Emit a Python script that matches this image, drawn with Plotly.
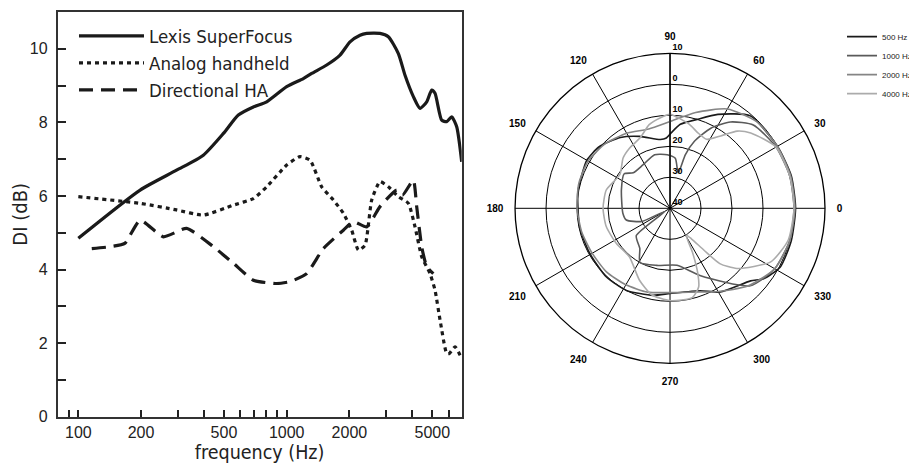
import plotly.graph_objects as go

# ---------------- left chart data ----------------
lexis_f = [100, 198, 296, 398, 497, 586, 692, 802, 1000, 1202, 1318, 1556, 1803, 2014,
           2249, 2421, 2805, 3076, 3436, 3698, 4055, 4365, 4699, 4966, 5152, 5546, 5861,
           6194, 6546, 6918]
lexis_di = [4.85, 6.16, 6.70, 7.11, 7.70, 8.20, 8.42, 8.56, 8.97, 9.19, 9.33, 9.56, 9.83,
            10.19, 10.37, 10.42, 10.42, 10.33, 9.87, 9.28, 8.70, 8.38, 8.56, 8.88, 8.79,
            8.06, 8.02, 8.15, 7.88, 6.93]

analog_f = [100, 198, 296, 398, 555, 692, 802, 1000, 1159, 1297, 1472, 1675, 1871, 2051,
            2208, 2377, 2559, 2805, 3076, 3436, 3837, 4130, 4446, 4875, 5152, 5445, 5861,
            6040, 6427, 6918]
analog_di = [5.98, 5.80, 5.62, 5.48, 5.75, 5.93, 6.25, 6.84, 7.07, 6.97, 6.25, 5.89, 5.53,
             5.07, 4.53, 4.66, 5.89, 6.39, 6.25, 5.98, 5.80, 5.16, 4.35, 3.89, 3.44, 2.63,
             1.72, 1.72, 1.90, 1.59]

direct_f = [116, 142, 167, 198, 256, 331, 445, 555, 692, 895, 1038, 1247, 1500, 1871,
            2089, 2421, 2805, 3373, 3597, 4055, 4207, 4446, 4699, 5058]
direct_di = [4.57, 4.62, 4.71, 5.34, 4.89, 5.12, 4.62, 4.17, 3.71, 3.62, 3.67, 3.89, 4.57,
             5.07, 5.30, 5.16, 5.71, 6.16, 6.02, 6.43, 5.71, 4.62, 4.08, 3.89]

x_tick_vals = [100, 200, 500, 1000, 2000, 5000]
x_minor_vals = [90, 300, 400, 600, 700, 800, 900, 3000, 4000, 6000]
x_decade_vals = [100, 1000]
y_tick_vals = [0, 2, 4, 6, 8, 10]

# ---------------- polar chart data ----------------
theta_500 = [0, 15, 30, 49, 63, 73, 83, 89, 93, 98, 113, 125, 139, 150, 160, 170, 180,
             192, 209, 227, 242, 259, 270, 290, 301, 318, 323, 332, 345, 360]
r_500 = [0.5, 0.5, 0, -0.5, -6, -10, -12.7, -15.6, -17.3, -17.6, -14.8, -12.1, -9.7, -9,
         -9.6, -9.8, -10.3, -10.2, -10.3, -9.8, -10, -11.4, -12.5, -11.7, -8.5, -5, -2.2,
         0.3, 0.5, 0.5]

theta_1000 = [0, 15, 30, 45, 55, 63, 70, 74, 77, 84, 93, 106, 122, 136, 143, 159, 186,
              195, 205, 211, 219, 233, 241, 257, 277, 294, 316, 330, 345, 360]
r_1000 = [0, 0, -0.5, -2, -6, -11, -17, -22, -28.3, -23.8, -22.7, -22, -23.5, -23.5,
          -21.5, -23.2, -24.7, -25.4, -30, -38, -26, -23.8, -20, -21.1, -21.5, -16.3, -4,
          -1, 0, 0]

theta_2000 = [0, 15, 30, 45, 60, 75, 90, 105, 120, 135, 150, 165, 180, 195, 210, 225,
              240, 255, 270, 285, 300, 315, 330, 345, 360]
r_2000 = [0.3, 0.3, 0, -0.5, -3, -8, -12, -13.5, -12, -10.5, -9.5, -9.5, -10, -10.5, -11,
          -11, -11.5, -12, -12.8, -12, -9, -4.5, -1, 0, 0.3]

theta_4000 = [0, 15, 30, 43, 49, 55, 62, 70, 77, 90, 96, 104, 113, 124, 133, 146, 164,
              180, 196, 213, 230, 247, 258, 270, 284, 290, 293, 297, 301, 305, 309, 312,
              318, 332, 345, 360]
r_4000 = [0, 0, -0.5, -4.4, -7, -11.5, -14.8, -14, -12.2, -9.7, -10.6, -12.2, -15.3,
          -16.6, -17.8, -20.5, -18.6, -18.4, -18.6, -19.3, -19.6, -14.8, -11.5, -10.2,
          -10.3, -13, -17, -24, -30, -28, -22.7, -16, -11, -3.2, -0.5, 0]

r_tick_vals = [-40, -30, -20, -10, 0, 10]
r_tick_text = ["40", "30", "20", "10", "0", "10"]
angle_tick_vals = [0, 30, 60, 90, 120, 150, 180, 210, 240, 270, 300, 330]

NARROW = "Liberation Sans Narrow, Arial Narrow, DejaVu Sans Condensed, sans-serif"
SANS = "Liberation Sans, Arial, Helvetica, sans-serif"

# the page body adds an 8px margin, so the figure is 8px smaller than the window
W, H = 909, 457

fig = go.Figure()

fig.add_trace(go.Scatter(x=lexis_f, y=lexis_di, mode="lines", name="Lexis SuperFocus",
                         line=dict(color="#1a1a1a", width=3.2, shape="spline", smoothing=0.6),
                         xaxis="x", yaxis="y", legend="legend"))
fig.add_trace(go.Scatter(x=analog_f, y=analog_di, mode="lines", name="Analog handheld",
                         line=dict(color="#1a1a1a", width=3.2, dash="4px,4px",
                                   shape="spline", smoothing=0.5),
                         xaxis="x", yaxis="y", legend="legend"))
fig.add_trace(go.Scatter(x=direct_f, y=direct_di, mode="lines", name="Directional HA",
                         line=dict(color="#1a1a1a", width=3.2, dash="14px,8px",
                                   shape="spline", smoothing=0.5),
                         xaxis="x", yaxis="y", legend="legend"))

pol_series = [("500 Hz", theta_500, r_500, "#1a1a1a"),
              ("1000 Hz", theta_1000, r_1000, "#5a5a5a"),
              ("2000 Hz", theta_2000, r_2000, "#858585"),
              ("4000 Hz", theta_4000, r_4000, "#ababab")]
for name, th, rr, col in pol_series:
    fig.add_trace(go.Scatterpolar(theta=th, r=rr, mode="lines", name=name,
                                  line=dict(color=col, width=1.6, shape="spline", smoothing=0.6),
                                  subplot="polar", legend="legend2"))

axis_common = dict(showline=True, linecolor="#333", linewidth=1.5, mirror=True,
                   showgrid=False, zeroline=False, ticks="inside", tickcolor="#222",
                   tickwidth=1.5, automargin=False)

x_dom = [0.05446, 0.49912]
y_dom = [0.1057, 0.9912]

fig.update_layout(
    width=W, height=H,
    margin=dict(l=0, r=0, t=0, b=0, autoexpand=False),
    paper_bgcolor="white", plot_bgcolor="white",
    xaxis=dict(type="log", range=[1.900, 3.840], domain=x_dom, anchor="y",
               tickvals=x_tick_vals, ticktext=[str(v) for v in x_tick_vals], ticklen=7,
               minor=dict(tickvals=x_minor_vals, ticks="inside", ticklen=7,
                          tickcolor="#222", tickwidth=1.5, showgrid=False),
               tickfont=dict(family=SANS, size=16, color="#222"),
               title=dict(text="frequency (Hz)", font=dict(family=NARROW, size=19.5, color="#222"),
                          standoff=2),
               **axis_common),
    xaxis2=dict(type="log", range=[1.900, 3.840], domain=x_dom, anchor="y",
                overlaying="x", tickvals=x_decade_vals, ticks="inside", ticklen=13,
                tickcolor="#222", tickwidth=1.5, showticklabels=False, showline=False,
                showgrid=False, zeroline=False, automargin=False),
    yaxis=dict(range=[0, 11], domain=y_dom, anchor="x",
               tickvals=y_tick_vals, ticklen=9,
               minor=dict(dtick=1, ticks="inside", ticklen=9, tickcolor="#222",
                          tickwidth=1.5, showgrid=False),
               tickfont=dict(family=SANS, size=16, color="#222"),
               ticklabelstandoff=5,
               title=dict(text="DI (dB)", font=dict(family=NARROW, size=20, color="#222"),
                          standoff=0),
               **axis_common),
    legend=dict(x=0.0726, y=0.9796, xanchor="left", yanchor="top", bgcolor="rgba(0,0,0,0)",
                font=dict(family=NARROW, size=18.5, color="#222"), itemwidth=65,
                tracegroupgap=0, itemclick=False),
    legend2=dict(x=1.0, y=0.969, xanchor="right", yanchor="top", bgcolor="rgba(0,0,0,0)",
                 font=dict(family=SANS, size=8, color="#222"), itemwidth=30,
                 tracegroupgap=0),
    polar=dict(
        domain=dict(x=[0.5578, 0.8988], y=[0.2225, 0.9009]),
        bgcolor="white",
        angularaxis=dict(rotation=0, direction="counterclockwise", tickvals=angle_tick_vals,
                         showgrid=True, gridcolor="#000", gridwidth=1.3,
                         showline=True, linecolor="#000", linewidth=1.3,
                         ticks="outside", ticklen=9, tickcolor="rgba(0,0,0,0)",
                         tickfont=dict(family=SANS, size=10, color="#000", weight="bold")),
        radialaxis=dict(range=[-40, 10], tickvals=r_tick_vals,
                        ticktext=[t + "<br> " for t in r_tick_text],
                        angle=90, tickangle=90, showgrid=True, gridcolor="#000",
                        gridwidth=1.3, showline=True, linecolor="#000", linewidth=1.3,
                        ticks="", tickfont=dict(family=SANS, size=9, color="#000",
                                                weight="bold")),
    ),
    showlegend=True,
)

fig.write_html("out.html")
